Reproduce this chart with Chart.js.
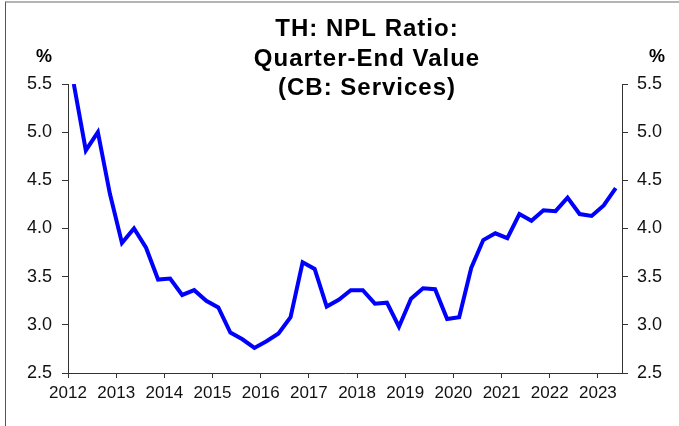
<!DOCTYPE html>
<html>
<head>
<meta charset="utf-8">
<script src="https://cdn.jsdelivr.net/npm/chart.js@4/dist/chart.umd.min.js"></script>
<style>
  html, body { margin: 0; padding: 0; background: #fff; }
  #wrap { position: relative; width: 679px; height: 426px; }
  #frame {
    position: absolute; left: 5px; top: 1px; right: 0; bottom: 0;
    border-top: 2px solid #b4b4b4; border-left: 1px solid #555;
  }
  canvas { position: absolute; left: 0; top: 0; }
</style>
</head>
<body>
<div id="wrap">
  <div id="frame"></div>
  <canvas id="nplChart" width="679" height="426"></canvas>
</div>
<script>
// quarter-end observations
const quarters = [
  "2012Q1", "2012Q2", "2012Q3", "2012Q4", "2013Q1", "2013Q2", "2013Q3", "2013Q4",
  "2014Q1", "2014Q2", "2014Q3", "2014Q4", "2015Q1", "2015Q2", "2015Q3", "2015Q4",
  "2016Q1", "2016Q2", "2016Q3", "2016Q4", "2017Q1", "2017Q2", "2017Q3", "2017Q4",
  "2018Q1", "2018Q2", "2018Q3", "2018Q4", "2019Q1", "2019Q2", "2019Q3", "2019Q4",
  "2020Q1", "2020Q2", "2020Q3", "2020Q4", "2021Q1", "2021Q2", "2021Q3", "2021Q4",
  "2022Q1", "2022Q2", "2022Q3", "2022Q4", "2023Q1", "2023Q2"
];
const nplServices = [
  5.50, 4.81, 5.00, 4.36, 3.85, 4.00, 3.80, 3.47,
  3.48, 3.31, 3.36, 3.25, 3.18, 2.92, 2.85, 2.76,
  2.83, 2.91, 3.08, 3.65, 3.58, 3.19, 3.26, 3.36,
  3.36, 3.22, 3.23, 2.98, 3.27, 3.38, 3.37, 3.06,
  3.08, 3.59, 3.88, 3.95, 3.90, 4.15, 4.08, 4.19,
  4.18, 4.32, 4.15, 4.13, 4.24, 4.42
];
const yearTicks = [2012, 2013, 2014, 2015, 2016, 2017, 2018, 2019, 2020, 2021, 2022, 2023];
const titleLines = ["TH: NPL Ratio:", "Quarter-End Value", "(CB: Services)"];
const unitLabel = "%";

// place each quarter on a decimal-year axis
function quarterPos(label) {
  const year = parseInt(label.slice(0, 4), 10);
  const q = parseInt(label.slice(5), 10);
  return year + 0.12 + (q - 1) * 0.25;
}

const points = quarters.map((q, i) => ({ x: quarterPos(q), y: nplServices[i] }));

const AXIS_COLOR = "#333";
const FONT = "'Liberation Sans', Arial, sans-serif";

// title and unit labels sit partly over the plot area, so draw them by hand
const headerPlugin = {
  id: "header",
  afterDraw(chart) {
    const ctx = chart.ctx;
    ctx.save();
    ctx.fillStyle = "#000";
    ctx.textAlign = "center";
    ctx.textBaseline = "alphabetic";
    ctx.font = "bold 24px " + FONT;
    if ("letterSpacing" in ctx) ctx.letterSpacing = "1px";
    titleLines.forEach((line, i) => {
      ctx.fillText(line, 367, 36 + i * 29.5);
    });
    if ("letterSpacing" in ctx) ctx.letterSpacing = "0px";
    ctx.font = "bold 18px " + FONT;
    ctx.textBaseline = "middle";
    ctx.fillText(unitLabel, 44, 57);
    ctx.fillText(unitLabel, 657, 57);
    ctx.restore();
  },
};

const ctx = document.getElementById("nplChart").getContext("2d");

new Chart(ctx, {
  type: "line",
  data: {
    datasets: [
      {
        label: "NPL Ratio (CB: Services)",
        data: points,
        borderColor: "#0000ff",
        backgroundColor: "#0000ff",
        borderWidth: 4,
        pointRadius: 0,
        tension: 0,
        fill: false,
        yAxisID: "y",
      },
    ],
  },
  options: {
    responsive: false,
    animation: false,
    layout: { padding: { top: 84, left: 0, right: 0, bottom: 0 } },
    plugins: {
      legend: { display: false },
      title: { display: false },
      tooltip: { enabled: false },
    },
    scales: {
      x: {
        type: "linear",
        min: 2012,
        max: 2023.5,
        afterBuildTicks: (scale) => {
          scale.ticks = yearTicks.map((v) => ({ value: v }));
        },
        afterFit: (scale) => {
          scale.height = 53;
        },
        ticks: {
          callback: (v) => String(v),
          autoSkip: false,
          maxRotation: 0,
          padding: 5,
          color: "#111",
          font: { family: FONT, size: 17 },
        },
        grid: { drawOnChartArea: false, tickLength: 5, color: AXIS_COLOR },
        border: { color: AXIS_COLOR, width: 1 },
      },
      y: {
        position: "left",
        min: 2.5,
        max: 5.5,
        afterFit: (scale) => {
          scale.width = 68;
        },
        ticks: {
          stepSize: 0.5,
          callback: (v) => v.toFixed(1),
          padding: 10,
          color: "#111",
          font: { family: FONT, size: 18 },
        },
        grid: { drawOnChartArea: false, tickLength: 6, color: AXIS_COLOR },
        border: { color: AXIS_COLOR, width: 1 },
      },
      y2: {
        position: "right",
        min: 2.5,
        max: 5.5,
        afterFit: (scale) => {
          scale.width = 57;
        },
        ticks: {
          stepSize: 0.5,
          callback: (v) => v.toFixed(1),
          padding: 9,
          color: "#111",
          font: { family: FONT, size: 18 },
        },
        grid: { drawOnChartArea: false, tickLength: 6, color: AXIS_COLOR },
        border: { color: AXIS_COLOR, width: 1 },
      },
    },
  },
  plugins: [headerPlugin],
});
</script>
</body>
</html>
